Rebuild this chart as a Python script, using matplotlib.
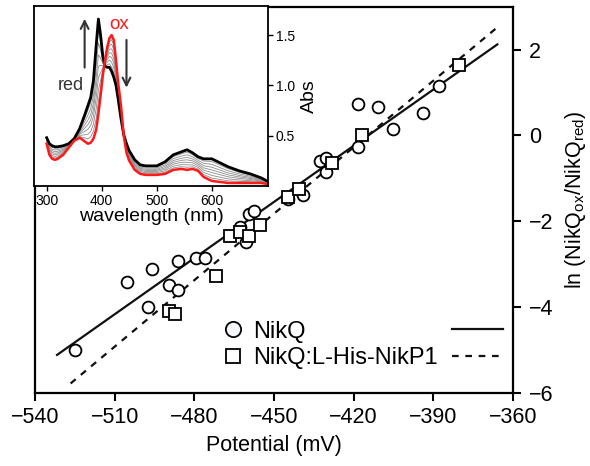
import numpy as np
import matplotlib.pyplot as plt
from matplotlib.lines import Line2D

plt.rcParams['font.family'] = ['Liberation Sans', 'DejaVu Sans']

# redox titration: ln(ox/red) vs applied potential
nikq_E = [-525.0, -505.2, -497.3, -495.8, -489.6, -486.1, -486.1, -479.5,
          -476.1, -462.9, -460.7, -459.5, -457.6, -444.9, -439.0, -432.5,
          -430.6, -430.5, -418.3, -418.3, -410.8, -405.1, -394.0, -387.9]
nikq_ln = [-5.00, -3.43, -4.01, -3.11, -3.49, -3.60, -2.92, -2.87,
           -2.87, -2.14, -2.49, -1.83, -1.77, -1.48, -1.38, -0.60,
           -0.52, -0.86, -0.28, 0.72, 0.66, 0.15, 0.53, 1.15]

nikp_E = [-489.6, -487.4, -472.0, -466.6, -462.9, -459.5, -455.3, -444.7,
          -440.5, -428.1, -417.0, -380.2]
nikp_ln = [-4.09, -4.16, -3.29, -2.35, -2.26, -2.34, -2.08, -1.43,
           -1.26, -0.65, 0.00, 1.65]

# linear fits: slope, intercept, x-range
nikq_fit = (0.04367, 18.10, -531.7, -365.9)
nikp_fit = (0.05168, 21.43, -526.6, -365.8)

# UV-vis spectra of the titration
wl = [300, 305, 310, 315, 320, 330, 340, 350, 360, 370, 375, 380, 385, 390,
      394, 398, 402, 406, 410, 414, 418, 422, 426, 430, 435, 440, 445, 450,
      460, 470, 480, 500, 515, 530, 545, 555, 565, 575, 585, 600, 615, 630,
      650, 670, 690, 700]
abs_red = [0.48, 0.42, 0.40, 0.39, 0.39, 0.40, 0.42, 0.47, 0.57, 0.72, 0.80,
           0.88, 1.05, 1.40, 1.66, 1.50, 1.29, 1.19, 1.18, 1.18, 1.14, 1.08,
           1.00, 0.86, 0.67, 0.51, 0.42, 0.35, 0.26, 0.21, 0.20, 0.20, 0.24,
           0.31, 0.34, 0.36, 0.33, 0.29, 0.27, 0.27, 0.23, 0.19, 0.15, 0.12,
           0.08, 0.05]
abs_ox = [0.42, 0.31, 0.27, 0.26, 0.27, 0.31, 0.38, 0.45, 0.48, 0.44, 0.42,
          0.43, 0.47, 0.56, 0.72, 0.90, 1.10, 1.25, 1.38, 1.47, 1.50, 1.45,
          1.25, 1.02, 0.80, 0.50, 0.33, 0.25, 0.16, 0.12, 0.11, 0.11, 0.12,
          0.16, 0.17, 0.16, 0.17, 0.15, 0.09, 0.05, 0.04, 0.03, 0.03, 0.03,
          0.03, 0.02]
# fraction oxidised for the intermediate spectra
ox_fraction = [0.12, 0.25, 0.38, 0.50, 0.62, 0.75, 0.87]

fig = plt.figure(figsize=(5.9, 4.66), dpi=100)
ax = fig.add_axes([0.0593, 0.1573, 0.8102, 0.8283])

for slope, icpt, x0, x1 in [nikq_fit]:
    xs = np.array([x0, x1])
    ax.plot(xs, slope * xs + icpt, color='#111111', lw=1.6, zorder=2)
for slope, icpt, x0, x1 in [nikp_fit]:
    xs = np.array([x0, x1])
    ax.plot(xs, slope * xs + icpt, color='#111111', lw=1.6, dashes=(3, 3), zorder=2)

ax.plot(nikq_E, nikq_ln, 'o', ms=8.5, mfc='white', mec='black', mew=1.3,
        linestyle='none', zorder=3)
ax.plot(nikp_E, nikp_ln, 's', ms=8.0, mfc='white', mec='black', mew=1.3,
        linestyle='none', zorder=4)

ax.set_xlim(-540, -360)
ax.set_ylim(-6, 3)
ax.set_xticks(np.arange(-540, -359, 30))
ax.set_yticks(np.arange(-6, 3, 2))
ax.yaxis.tick_right()
ax.yaxis.set_label_position('right')
ax.tick_params(direction='out', length=5.5, width=1.5, labelsize=15.5, pad=5)
ax.tick_params(axis='y', pad=6)
for s in ax.spines.values():
    s.set_linewidth(1.6)
ax.set_xlabel('Potential (mV)', fontsize=15.5, labelpad=5)
ax.set_ylabel(r'ln (NikQ$_{\mathregular{ox}}$/NikQ$_{\mathregular{red}}$)',
              fontsize=15.5)
ax.yaxis.set_label_coords(1.105, 0.5)

names = ['NikQ', 'NikQ:L-His-NikP1']
mk = [Line2D([], [], marker='o', ms=11, mfc='#f4f7fb', mec='black', mew=1.3, ls='none'),
      Line2D([], [], marker='s', ms=10, mfc='white', mec='black', mew=1.3, ls='none')]
ln = [Line2D([], [], color='#111111', lw=1.6),
      Line2D([], [], color='#111111', lw=1.6, dashes=(3, 3))]
leg1 = ax.legend(mk, names, loc='lower left', bbox_to_anchor=(0.395, 0.062),
                 frameon=False, fontsize=17, handlelength=0.8, handletextpad=0.44,
                 borderpad=0, borderaxespad=0, labelspacing=0.17)
ax.add_artist(leg1)
ax.legend(ln, ['', ''], loc='lower right', bbox_to_anchor=(0.98, 0.062),
          frameon=False, fontsize=17, handlelength=2.19, handletextpad=0,
          borderpad=0, borderaxespad=0, labelspacing=0.17, markerfirst=False)

# inset: spectra
ins = fig.add_axes([0.0576, 0.6009, 0.3966, 0.3863])
ins.set_facecolor('white')
red_a = np.array(abs_red)
ox_a = np.array(abs_ox)
for f in ox_fraction:
    ins.plot(wl, f * ox_a + (1 - f) * red_a, color='#8c8c8c', lw=0.6)
ins.plot(wl, abs_red, color='black', lw=2.0)
ins.plot(wl, abs_ox, color='#ff1a1a', lw=1.8)
ins.set_xlim(277, 702)
ins.set_ylim(0, 1.79)
ins.set_xticks([300, 400, 500, 600])
ins.set_yticks([0.5, 1.0, 1.5])
ins.yaxis.tick_right()
ins.yaxis.set_label_position('right')
ins.tick_params(direction='out', length=3.6, width=1, labelsize=10, pad=2)
for s in ins.spines.values():
    s.set_linewidth(1.3)
ins.set_xlabel('wavelength (nm)', fontsize=14, labelpad=0)
ins.set_ylabel('Abs', fontsize=14, labelpad=4)

ins.annotate('', xy=(369, 1.69), xytext=(369, 1.15),
             arrowprops=dict(arrowstyle='->', color='#333333', lw=1.5,
                             mutation_scale=14))
ins.annotate('', xy=(445, 0.95), xytext=(445, 1.48),
             arrowprops=dict(arrowstyle='->', color='#333333', lw=1.5,
                             mutation_scale=14))
ins.text(344, 1.0, 'red', fontsize=13, color='#333333', ha='center', va='center')
ins.text(432, 1.61, 'ox', fontsize=13.5, color='#ff1a1a', ha='center', va='center')

fig.savefig('out.png', dpi=100)
